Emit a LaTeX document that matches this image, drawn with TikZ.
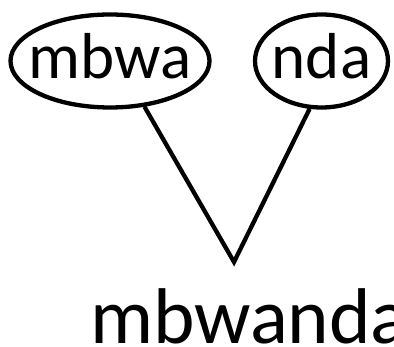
\documentclass[tikz,border=0pt]{standalone}
\usepackage{fontspec}
\setmainfont{Carlito}
\usetikzlibrary{shapes.geometric}

\begin{document}
\begin{tikzpicture}[x=1pt, y=1pt,
    morph/.style={ellipse, draw, line width=4.3pt, inner sep=0pt,
      minimum height=93pt, text height=46pt, text depth=10pt,
      font=\fontsize{65}{65}\selectfont},
    branch/.style={line width=4.3pt, miter limit=10}]
  % page frame
  \useasboundingbox (0,0) rectangle (394,347);

  % the two parts
  \node[morph, minimum width=199pt] (mbwa) at (110,286) {\makebox[0pt]{mbwa}};
  \node[morph, minimum width=133pt] (nda) at (321.5,286) {\makebox[0pt]{nda}};

  % where the branches meet
  \coordinate (join) at (234,85);
  \draw[branch] (mbwa.-53) -- (join) -- (nda.-104);

  % the whole word
  \node[anchor=base west, inner sep=0pt, font=\fontsize{79}{79}\selectfont]
    (word) at (90,3) {mbwanda};
\end{tikzpicture}
\end{document}
